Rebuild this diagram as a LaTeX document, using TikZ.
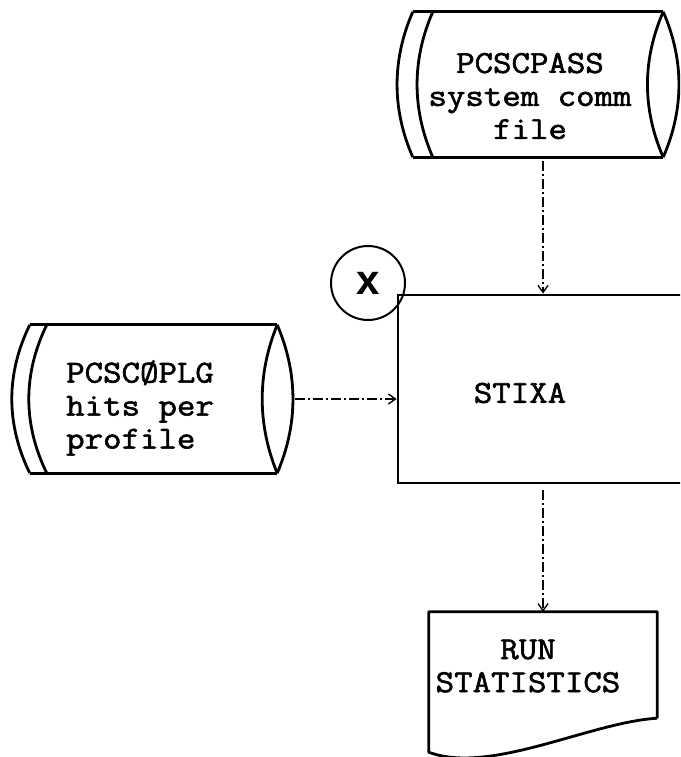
\documentclass[tikz,border=0pt]{standalone}
\usepackage{fontspec}
\usetikzlibrary{arrows.meta}
\newfontfamily\twfont{Latin Modern Mono}[FakeStretch=1.12, FakeBold=1.8]
\newfontfamily\xsans{Liberation Sans}
\tikzset{
  outline/.style={line width=2.8pt, line join=round},
  flow/.style={line width=1.4pt, dash pattern=on 10pt off 3pt on 2pt off 3pt,
    -{Straight Barb[length=7pt,width=10pt,line width=1.4pt]}},
  tw/.style={font=\twfont\fontsize{32}{33}\selectfont, inner sep=0pt},
  shapebox/.style={draw=none, inner sep=0pt, rectangle},
}
\begin{document}
\begin{tikzpicture}[x=1pt,y=-1pt]
\useasboundingbox (0,0) rectangle (680,757);
\clip (0,0) rectangle (680,757);

% top storage
\node[shapebox, minimum width=250pt, minimum height=145pt] (pass) at (538,84.5) {};
\draw[outline] (pass.north west) -- (pass.north east) (pass.south west) -- (pass.south east);
\draw[outline] (pass.north west) .. controls +(-21,48) and +(-21,-48) .. (pass.south west);
\draw[outline] ([xshift=20pt]pass.north west) .. controls +(-21,48) and +(-21,-48) .. ([xshift=20pt]pass.south west);
\draw[outline] (pass.north east) .. controls +(-21,48) and +(-21,-48) .. (pass.south east);
\draw[outline] (pass.north east) .. controls +(21,48) and +(21,-48) .. (pass.south east);
\node[tw, align=center] (passtxt) at (530,96) {PCSCPASS\\system comm\\file};

% left storage
\node[shapebox, minimum width=247pt, minimum height=148pt] (plg) at (153.5,399) {};
\draw[outline] (plg.north west) -- (plg.north east) (plg.south west) -- (plg.south east);
\draw[outline] (plg.north west) .. controls +(-24,49) and +(-24,-49) .. (plg.south west);
\draw[outline] ([xshift=17pt]plg.north west) .. controls +(-24,49) and +(-24,-49) .. ([xshift=17pt]plg.south west);
\draw[outline] (plg.north east) .. controls +(-20,49) and +(-20,-49) .. (plg.south east);
\draw[outline] (plg.north east) .. controls +(21,49) and +(21,-49) .. (plg.south east);
\node[tw, align=left, anchor=west] (plgtxt) at (66,408) {PCSCØPLG\\hits per\\profile};

% process box
\node[draw, line width=2.8pt, minimum width=290pt, minimum height=188pt, inner sep=0pt] (stixa) at (543,389) {};
\node[tw] (stixatxt) at (520,393) {STIXA};

% connector circle
\node[circle, draw, line width=2pt, minimum size=74pt, inner sep=0pt] (xc) at (368,283)
  {\xsans\bfseries\fontsize{42}{42}\selectfont x};

% document
\node[shapebox, minimum width=228pt, minimum height=140pt] (doc) at (543,682) {};
\draw[outline] ([yshift=34pt]doc.south east) -- (doc.north east) -- (doc.north west) -- (doc.south west)
  .. controls +(61,23) and +(-67,4) .. ([yshift=34pt]doc.south east);
\node[tw, align=center] (doctxt) at (528,666) {RUN\\STATISTICS};

% connectors
\draw[flow] ([xshift=5pt,yshift=-4pt]pass.south) -- (stixa.north);
\draw[flow] ([xshift=18pt]plg.east) -- (stixa.west |- plg.east);
\draw[flow] ([yshift=-6pt]stixa.south) -- (doc.north);
\end{tikzpicture}
\end{document}
